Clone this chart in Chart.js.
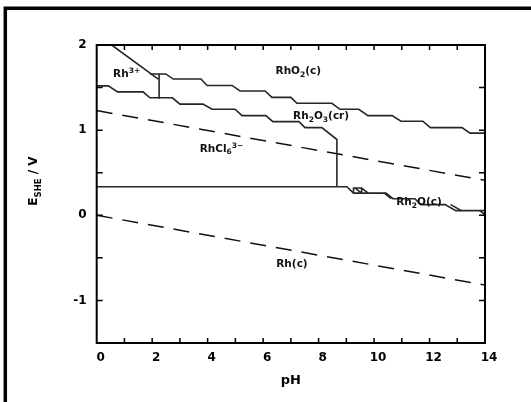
<!DOCTYPE html>
<html>
<head>
<meta charset="utf-8">
<script src="https://cdn.jsdelivr.net/npm/chart.js@4.4.0/dist/chart.umd.min.js"></script>
<style>
html, body { margin: 0; padding: 0; background: #fff; }
#wrap { position: relative; width: 531px; height: 402px; }
</style>
</head>
<body>
<div id="wrap"><canvas id="c" width="531" height="402"></canvas></div>
<script>
// axis ranges
var phMin = 0, phMax = 14;
var eMin = -1.5, eMax = 2;

// Rh3+ / RhO2 diagonal
var rh3DiagPH = [0.54, 2.22];
var rh3DiagE = [2.0, 1.60];

// Rh3+ / Rh2O3 vertical
var rh3VertPH = [2.25, 2.25];
var rh3VertE = [1.66, 1.37];

// RhO2(c) lower boundary (steps)
var rho2PH = [1.92, 2.49, 2.76, 3.76, 3.98, 4.88, 5.17, 6.07, 6.32, 7.0, 7.22, 8.48, 8.77, 9.45, 9.78, 10.65, 10.97, 11.76, 12.03, 13.17, 13.46, 14];
var rho2E = [1.66, 1.66, 1.60, 1.60, 1.525, 1.525, 1.46, 1.46, 1.385, 1.385, 1.315, 1.315, 1.245, 1.245, 1.17, 1.17, 1.105, 1.105, 1.03, 1.03, 0.965, 0.965];

// Rh2O3(cr) lower boundary, then down to the RhCl6 line
var rh2o3PH = [0, 0.42, 0.75, 1.67, 1.92, 2.73, 3.0, 3.83, 4.16, 4.99, 5.24, 6.1, 6.35, 7.29, 7.51, 8.12, 8.66, 8.66];
var rh2o3E = [1.52, 1.52, 1.45, 1.45, 1.38, 1.38, 1.305, 1.305, 1.245, 1.245, 1.17, 1.17, 1.10, 1.10, 1.03, 1.03, 0.89, 0.335];

// RhCl6 3- / Rh(c)
var rhclPH = [0, 8.66];
var rhclE = [0.335, 0.335];

// Rh2O(c) lower boundary (steps)
var rh2oPH = [8.66, 9.02, 9.26, 10.43, 10.68, 11.47, 11.69, 12.56, 12.95, 14];
var rh2oE = [0.335, 0.335, 0.26, 0.26, 0.195, 0.195, 0.125, 0.125, 0.055, 0.055];

// little extra pieces along the Rh2O(c) line
var rh2oBitsPH = [9.26, 9.26, 9.55, 9.55, null, 9.32, 9.55, null, 9.55, 9.79, null, 10.37, 10.62, null, 12.76, 13.15, null, 13.82, 14];
var rh2oBitsE = [0.26, 0.32, 0.32, 0.26, null, 0.32, 0.26, null, 0.32, 0.26, null, 0.26, 0.195, null, 0.125, 0.055, null, 0.055, 0.005];

// water stability lines (dashed)
var waterPH = [0, 14];
var o2E = [1.23, 0.41];
var h2E = [0.0, -0.82];

function pts(xs, ys) {
    var out = [];
    for (var i = 0; i < xs.length; i++) {
        out.push({ x: xs[i], y: ys[i] });
    }
    return out;
}

function line(xs, ys, dashed) {
    return {
        data: pts(xs, ys),
        showLine: true,
        borderColor: dashed ? "#111" : "#262626",
        borderWidth: dashed ? 1.5 : 1.6,
        borderDash: dashed ? [16, 10] : [],
        pointRadius: 0,
        fill: false,
        spanGaps: false
    };
}

var regionLabels = [
    { parts: [["Rh", 0], ["3+", 1]], ph: 1.08, e: 1.66 },
    { parts: [["RhO", 0], ["2", -1], ["(c)", 0]], ph: 7.27, e: 1.69 },
    { parts: [["Rh", 0], ["2", -1], ["O", 0], ["3", -1], ["(cr)", 0]], ph: 8.09, e: 1.16 },
    { parts: [["RhCl", 0], ["6", -1], ["3\u2212", 1]], ph: 4.5, e: 0.78 },
    { parts: [["Rh", 0], ["2", -1], ["O(c)", 0]], ph: 11.62, e: 0.15 },
    { parts: [["Rh(c)", 0]], ph: 7.04, e: -0.58 }
];

var FONT = '"DejaVu Sans", Verdana, sans-serif';

function drawRich(ctx, parts, cx, cy, size) {
    var w = 0;
    parts.forEach(function (p) {
        ctx.font = "bold " + (p[1] === 0 ? size : size * 0.72) + "px " + FONT;
        w += ctx.measureText(p[0]).width;
    });
    var x = cx - w / 2;
    parts.forEach(function (p) {
        var s = p[1] === 0 ? size : size * 0.72;
        ctx.font = "bold " + s + "px " + FONT;
        var dy = 0;
        if (p[1] === 1) dy = -size * 0.3;
        if (p[1] === -1) dy = size * 0.3;
        ctx.fillText(p[0], x, cy + dy);
        x += ctx.measureText(p[0]).width;
    });
}

var decorPlugin = {
    id: "decor",
    beforeDraw: function (chart) {
        var ctx = chart.ctx;
        ctx.save();
        ctx.fillStyle = "#fff";
        ctx.fillRect(0, 0, chart.width, chart.height);
        // outer frame (top and left only visible)
        ctx.strokeStyle = "#000";
        ctx.lineWidth = 3.5;
        ctx.beginPath();
        ctx.moveTo(5.3, 402);
        ctx.lineTo(5.3, 8.3);
        ctx.lineTo(531, 8.3);
        ctx.stroke();
        ctx.restore();
    },
    afterDraw: function (chart) {
        var ctx = chart.ctx;
        var a = chart.chartArea;
        var xs = chart.scales.x, ys = chart.scales.y;
        ctx.save();
        ctx.strokeStyle = "#000";
        ctx.lineWidth = 2;
        ctx.strokeRect(a.left, a.top, a.right - a.left, a.bottom - a.top);

        // inward ticks
        ctx.lineWidth = 1.5;
        ctx.beginPath();
        for (var p = phMin + 1; p < phMax; p++) {
            var px = xs.getPixelForValue(p);
            ctx.moveTo(px, a.bottom);
            ctx.lineTo(px, a.bottom - 5);
            ctx.moveTo(px, a.top);
            ctx.lineTo(px, a.top + 5);
        }
        for (var e = eMin + 0.5; e < eMax; e += 0.5) {
            var py = ys.getPixelForValue(e);
            ctx.moveTo(a.left, py);
            ctx.lineTo(a.left + 6, py);
            ctx.moveTo(a.right, py);
            ctx.lineTo(a.right - 6, py);
        }
        ctx.stroke();

        // region labels
        ctx.fillStyle = "#111";
        ctx.textBaseline = "middle";
        ctx.textAlign = "left";
        regionLabels.forEach(function (l) {
            drawRich(ctx, l.parts, xs.getPixelForValue(l.ph), ys.getPixelForValue(l.e), 10.5);
        });

        // y axis title with subscript
        ctx.translate(37, (a.top + a.bottom) / 2 - 13);
        ctx.rotate(-Math.PI / 2);
        ctx.fillStyle = "#000";
        ctx.textBaseline = "alphabetic";
        var parts = [["E", 12, 0], ["SHE", 8.5, 3.5], [" / V", 12, 0]];
        var tw = 0;
        parts.forEach(function (p) {
            ctx.font = "bold " + p[1] + "px " + FONT;
            tw += ctx.measureText(p[0]).width;
        });
        var x = -tw / 2;
        parts.forEach(function (p) {
            ctx.font = "bold " + p[1] + "px " + FONT;
            ctx.fillText(p[0], x, p[2]);
            x += ctx.measureText(p[0]).width;
        });
        ctx.restore();
    }
};

var ctx = document.getElementById("c").getContext("2d");

var chart = new Chart(ctx, {
    type: "scatter",
    data: {
        datasets: [
            line(rh3DiagPH, rh3DiagE, false),
            line(rh3VertPH, rh3VertE, false),
            line(rho2PH, rho2E, false),
            line(rh2o3PH, rh2o3E, false),
            line(rhclPH, rhclE, false),
            line(rh2oPH, rh2oE, false),
            line(rh2oBitsPH, rh2oBitsE, false),
            line(waterPH, o2E, true),
            line(waterPH, h2E, true)
        ]
    },
    options: {
        responsive: false,
        animation: false,
        devicePixelRatio: 1,
        layout: { padding: { left: 0, top: 45, right: 46, bottom: 0 } },
        plugins: {
            legend: { display: false },
            tooltip: { enabled: false }
        },
        scales: {
            x: {
                type: "linear",
                min: phMin,
                max: phMax,
                afterFit: function (s) { s.height = 59; },
                grid: { display: false, drawTicks: false },
                border: { display: false },
                ticks: {
                    stepSize: 2,
                    padding: 8,
                    labelOffset: 4,
                    color: "#000",
                    font: { family: FONT, weight: "bold", size: 12 }
                },
                title: {
                    display: true,
                    text: "pH",
                    color: "#000",
                    font: { family: FONT, weight: "bold", size: 13 },
                    padding: { top: 0, bottom: 14 }
                }
            },
            y: {
                type: "linear",
                min: eMin,
                max: eMax,
                afterFit: function (s) { s.width = 96.7; },
                grid: { display: false, drawTicks: false },
                border: { display: false },
                ticks: {
                    stepSize: 1,
                    padding: 10,
                    color: "#000",
                    font: { family: FONT, weight: "bold", size: 12 },
                    callback: function (v) { return Number.isInteger(v) ? v : ""; }
                }
            }
        }
    },
    plugins: [decorPlugin]
});
</script>
</body>
</html>
